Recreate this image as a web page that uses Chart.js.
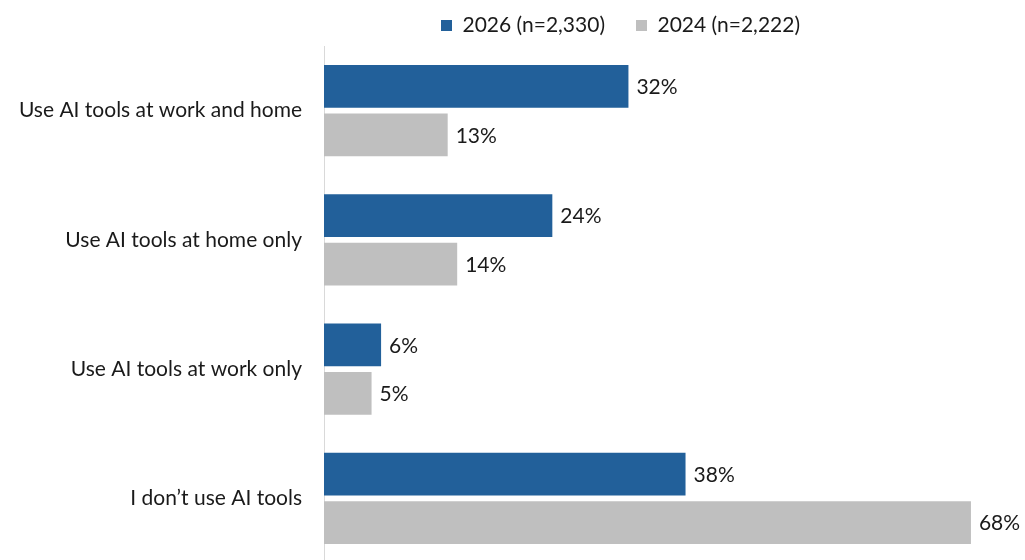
<!DOCTYPE html>
<html>
<head>
<meta charset="utf-8">
<script src="https://cdn.jsdelivr.net/npm/chart.js@4"></script>
<style>
  html, body { margin: 0; padding: 0; background: #fff; overflow: hidden; }
</style>
</head>
<body>
<canvas id="grafico" width="1025" height="566"></canvas>
<script>
const categorias = ["Use AI tools at work and home", "Use AI tools at home only", "Use AI tools at work only", "I don\u2019t use AI tools"];
const serie2026 = [32, 24, 6, 38];
const serie2024 = [13, 14, 5, 68];
const rotulos = ["2026 (n=2,330)", "2024 (n=2,222)"];

const fonte = "Lato, 'Open Sans', sans-serif";

// escreve o valor no fim de cada barra
const valoresNasBarras = {
  id: 'valoresNasBarras',
  afterDatasetsDraw(chart) {
    const ctx = chart.ctx;
    ctx.save();
    ctx.font = "21px " + fonte;
    ctx.fillStyle = '#1a1a1a';
    ctx.textAlign = 'left';
    ctx.textBaseline = 'middle';
    chart.data.datasets.forEach((ds, i) => {
      chart.getDatasetMeta(i).data.forEach((bar, j) => {
        ctx.fillText(ds.data[j] + '%', bar.x + 8, bar.y + 1);
      });
    });
    ctx.restore();
  }
};

// empurra a legenda um pouco para a direita
const moverLegenda = {
  id: 'moverLegenda',
  afterLayout(chart) {
    chart.legend.left += 116;
    chart.legend.right += 116;
  }
};

new Chart(document.getElementById('grafico'), {
  type: 'bar',
  data: {
    labels: categorias,
    datasets: [{
      label: rotulos[0],
      data: serie2026,
      backgroundColor: '#22609A',
      categoryPercentage: 0.748,
      barPercentage: 0.886
    },
    {
      label: rotulos[1],
      data: serie2024,
      backgroundColor: '#BFBFBF',
      categoryPercentage: 0.748,
      barPercentage: 0.886
    }]
  },
  options: {
    indexAxis: 'y',
    responsive: false,
    animation: false,
    layout: { padding: { top: -25, right: 16, left: 0, bottom: 0 } },
    plugins: {
      legend: {
        position: 'top',
        align: 'center',
        labels: {
          boxWidth: 11,
          boxHeight: 11,
          padding: 31,
          color: '#1a1a1a',
          font: { family: fonte, size: 21 }
        }
      },
      tooltip: { enabled: false }
    },
    scales: {
      x: {
        min: 0,
        max: 72,
        display: false
      },
      y: {
        grid: { display: false, drawTicks: false },
        border: { display: true, color: '#d9d9d9', width: 1 },
        ticks: {
          padding: 22,
          color: '#1a1a1a',
          font: { family: fonte, size: 21 }
        },
        afterFit(scale) {
          scale.width = 324;
          scale.paddingTop = 46;
          scale.paddingBottom = 3;
        }
      }
    }
  },
  plugins: [valoresNasBarras, moverLegenda]
});
</script>
</body>
</html>
